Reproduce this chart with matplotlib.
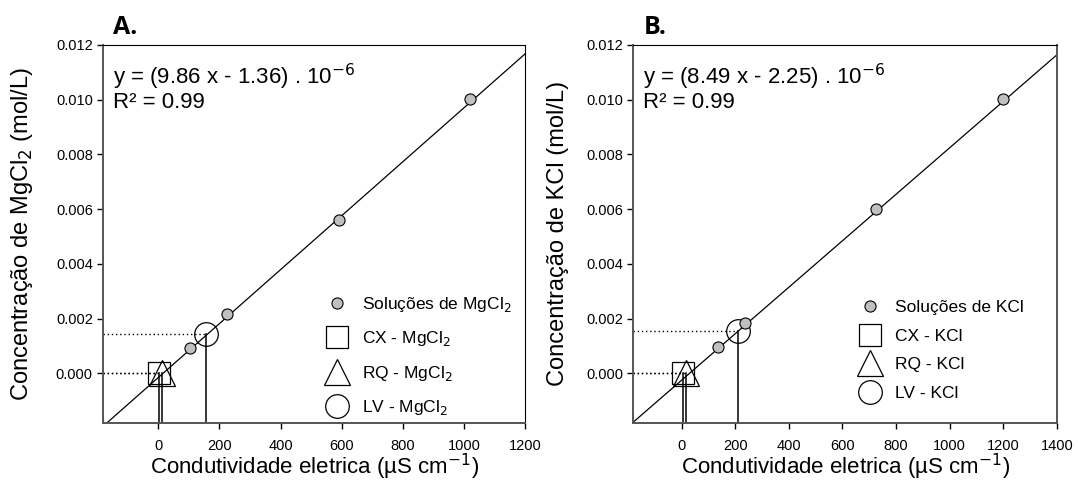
import numpy as np
import matplotlib.pyplot as plt
from matplotlib.ticker import FormatStrFormatter

plt.rcParams['font.family'] = ['Liberation Sans', 'DejaVu Sans']

# --- painel A: MgCl2 ---
a_cond = [104, 224, 590, 1018]            # µS/cm
a_conc = [0.00094, 0.00218, 0.00562, 0.01003]
a_slope, a_inter = 9.86e-6, -1.5e-4
a_cx = (3, 0.0)
a_rq = (13, 0.0)
a_lv = (157, 0.00143)

# --- painel B: KCl ---
b_cond = [137, 237, 724, 1200]
b_conc = [0.00095, 0.00183, 0.00601, 0.01002]
b_slope, b_inter = 8.49e-6, -2.5e-4
b_cx = (6, 0.0)
b_rq = (16, 0.0)
b_lv = (210, 0.00155)

y_ticks = [0.000, 0.002, 0.004, 0.006, 0.008, 0.010, 0.012]


def draw_panel(ax, cond, conc, slope, inter, cx, rq, lv, salt_tex, eq, xmax, letter, leg_pos, leg_sp, ylpad):
    xmin, ymin, ymax = -180, -0.0018, 0.012
    ax.set_xlim(xmin, xmax)
    ax.set_ylim(ymin, ymax)

    # reta de calibração
    xs = np.array([xmin, xmax])
    ax.plot(xs, slope * xs + inter, color='black', lw=0.9, zorder=2)

    # linhas de leitura das amostras
    for (x, y) in (cx, rq, lv):
        ax.plot([x, x], [ymin, y], color='black', lw=1.1, zorder=1)
        ax.plot([xmin, x], [y, y], color='black', lw=1.0, ls=(0, (1, 2)), zorder=1)

    ax.plot(cond, conc, 'o', ms=8, mfc='#c0c0c0', mec='black', mew=0.8,
            label=f'Soluções de {salt_tex}', zorder=4)
    ax.plot(*cx, 's', ms=16, mfc='none', mec='black', mew=0.9, label=f'CX - {salt_tex}', zorder=3)
    ax.plot(*rq, '^', ms=19, mfc='none', mec='black', mew=0.9, label=f'RQ - {salt_tex}', zorder=3)
    ax.plot(*lv, 'o', ms=17, mfc='none', mec='black', mew=0.9, label=f'LV - {salt_tex}', zorder=3)

    ax.legend(loc='upper left', bbox_to_anchor=leg_pos, bbox_transform=ax.figure.transFigure,
              frameon=False, fontsize=12.5, handlelength=1.5, handletextpad=0.7,
              labelspacing=leg_sp, borderpad=0.2)

    ax.text(0.024, 0.955, eq + '\nR² = 0.99', transform=ax.transAxes, fontsize=16,
            va='top', ha='left', linespacing=1.0)
    ax.text(0.024, 1.012, letter, transform=ax.transAxes, fontsize=18, fontweight='bold',
            family='Open Sans', va='bottom', ha='left')

    ax.set_yticks(y_ticks)
    ax.set_xticks(np.arange(0, xmax + 1, 200))
    ax.yaxis.set_major_formatter(FormatStrFormatter('%.3f'))
    ax.tick_params(direction='out', length=4, width=1, labelsize=10.5, top=False, right=False)
    ax.tick_params(axis='x', pad=8)
    for s in ('left', 'bottom'):
        ax.spines[s].set_color('#555555')
        ax.spines[s].set_linewidth(1.4)
    ax.set_xlabel('Condutividade eletrica (µS cm$^{-1}$)', fontsize=16, labelpad=-1)
    ax.set_ylabel(f'Concentração de {salt_tex} (mol/L)', fontsize=17, labelpad=ylpad)


fig = plt.figure(figsize=(10.78, 4.92), dpi=100)
ax_a = fig.add_axes([0.0958, 0.1409, 0.3915, 0.7677])
ax_b = fig.add_axes([0.5875, 0.1409, 0.3928, 0.7677])

draw_panel(ax_a, a_cond, a_conc, a_slope, a_inter, a_cx, a_rq, a_lv, 'MgCl$_2$',
           'y = (9.86 x - 1.36) . 10$^{-6}$', 1200, 'A.', (0.289, 0.425), 0.88, 15)
draw_panel(ax_b, b_cond, b_conc, b_slope, b_inter, b_cx, b_rq, b_lv, 'KCl',
           'y = (8.49 x - 2.25) . 10$^{-6}$', 1400, 'B.', (0.784, 0.415), 0.77, 12)

ax_b.spines['right'].set_color('#555555')
ax_b.spines['right'].set_linewidth(1.4)

fig.savefig('out.png', dpi=100)
